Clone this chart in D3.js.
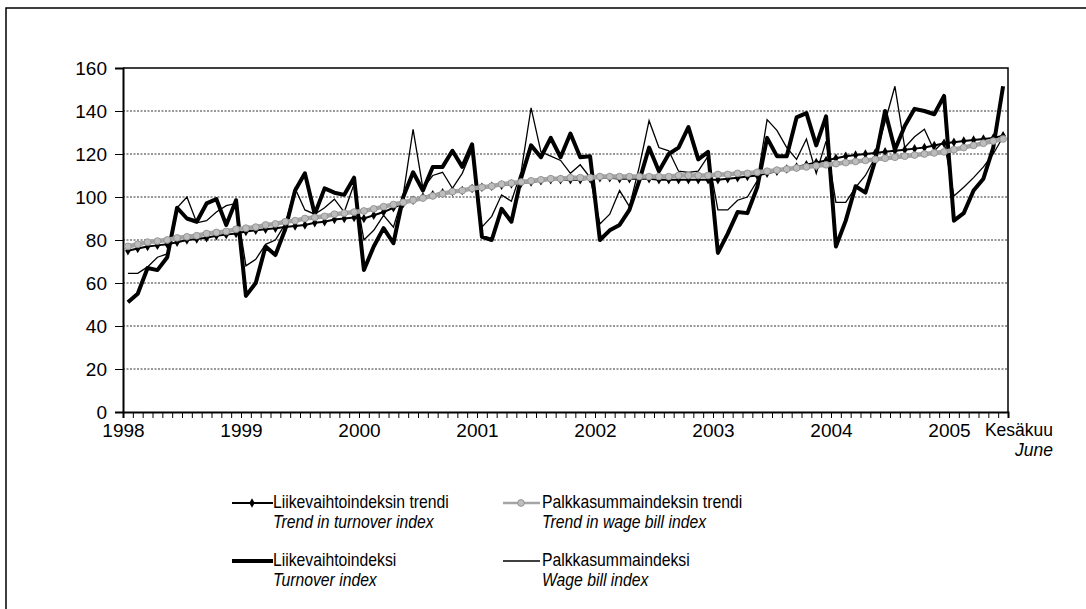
<!DOCTYPE html>
<html>
<head>
<meta charset="utf-8">
<script src="https://cdn.jsdelivr.net/npm/d3@7"></script>
<style>
  body { margin: 0; background: #fff; }
  svg text { font-family: "Liberation Sans", Arial, sans-serif; fill: #000; }
</style>
</head>
<body>
<div id="chart"></div>
<script>
// monthly data, Jan 1998 .. Jun 2005
var yearLabels = ["1998", "1999", "2000", "2001", "2002", "2003", "2004", "2005"];
var lastLabel = ["Kesäkuu", "June"];
var yTicks = [0, 20, 40, 60, 80, 100, 120, 140, 160];

var turnoverTrend = [
  75, 76, 77, 77.5, 78, 79, 80, 80.5, 81, 82, 82.5, 83,
  84, 84.5, 85, 85.5, 86, 86.5, 87, 88, 88.5, 89.5, 90, 90.5,
  90, 91.5, 93, 95, 97, 98.5, 100, 101, 102, 102.5, 103, 104,
  104.5, 105, 105.5, 106, 106.5, 107, 107.5, 108, 108, 108, 108, 108.5,
  109, 109, 108.5, 108.5, 108.5, 108.5, 108, 108, 108, 108, 108, 108,
  108, 108.5, 109, 109.5, 110, 111, 112, 113, 114, 115, 116, 117,
  118, 119, 119.5, 120, 120.5, 121, 121.5, 122, 122.5, 123, 124, 125,
  125.5, 126, 126.5, 127, 127.5, 128.5
];
var wageTrend = [
  77, 78, 79, 79.5, 80, 81, 81.5, 82, 83, 83.5, 84, 85,
  85.5, 86, 87, 87.5, 88.5, 89, 90, 90.5, 91, 92, 92.5, 93,
  93.5, 94.5, 95.5, 96.5, 97.5, 98.5, 99.5, 100.5, 101.5, 102.5, 103, 104,
  104.5, 105, 106, 106.5, 107, 107.5, 108, 108.5, 108.5, 109, 109, 109,
  109.5, 109.5, 109.5, 109.5, 109.5, 109.5, 109.5, 109.5, 110, 110, 110, 110,
  110.5, 110.5, 111, 111, 111.5, 112, 112.5, 113, 113.5, 114, 114.5, 115,
  115.5, 116, 116.5, 117, 117.5, 118, 118.5, 119, 119.5, 120, 120.5, 121,
  122, 123, 124, 125, 126, 127
];
var turnoverIndex = [
  51, 55, 67, 66, 72, 95, 90, 88.5, 97, 99, 87, 98.5,
  54, 60, 77, 73, 85, 103, 111, 92, 104, 102, 101, 109,
  66, 77, 85.5, 78.5, 100, 111.5, 103, 114, 114, 121.5, 114, 124.5,
  81.5, 80, 94.5, 88.5, 109, 124, 118.5, 127.5, 118.5, 129.5, 118.5, 119,
  80, 84.5, 87, 94, 107.5, 123, 112, 120, 123, 132.5, 117.5, 121,
  74, 83, 93, 92.5, 104.5, 127.5, 119, 119, 137, 139, 124, 137.5,
  77, 89, 105, 102, 117, 140, 122, 133, 141, 140, 138.5, 147,
  89, 92.5, 103, 108.5, 123, 151.5
];
var wageIndex = [
  64.5, 64.5, 67.5, 72, 73.5, 95, 100, 88, 89, 93, 96, 97,
  68, 71, 78, 80, 87.5, 104, 94, 92, 95, 99, 93, 106,
  80, 84.5, 91.5, 86, 101, 131.5, 104, 110, 111.5, 104, 111, 122,
  86, 91, 101, 98, 112, 141.5, 121, 119, 117, 111, 115, 109,
  87.5, 92, 103, 95.5, 114, 135.5, 123, 121.5, 112, 111.5, 112, 119,
  94, 94, 98.5, 100, 107.5, 136, 131, 123, 117.5, 127, 111, 126,
  97.5, 97.5, 104.5, 110, 118.5, 135, 151.5, 123, 128, 131.5, 121.5, 126,
  100.5, 104.5, 109, 114, 120, 128
];
var legendFi = ["Liikevaihtoindeksin trendi", "Palkkasummaindeksin trendi", "Liikevaihtoindeksi", "Palkkasummaindeksi"];
var legendEn = ["Trend in turnover index", "Trend in wage bill index", "Turnover index", "Wage bill index"];

var width = 1086, height = 609;
var nMonths = turnoverIndex.length;

var svg = d3.select("#chart").append("svg")
    .attr("width", width)
    .attr("height", height);

// outer frame (only left and top show in the picture)
svg.append("path")
    .attr("d", "M6,609 L6,8 L1086,8")
    .attr("fill", "none")
    .attr("stroke", "#000")
    .attr("stroke-width", 1.5);

var x = d3.scaleLinear().domain([0, nMonths]).range([123, 1008]);
var y = d3.scaleLinear().domain([0, 160]).range([412, 68]);

// gridlines
svg.append("g")
    .selectAll("line")
    .data(yTicks.filter(d => d > 0 && d < 160))
    .enter()
    .append("line")
    .attr("x1", x(0)).attr("x2", x(nMonths))
    .attr("y1", d => y(d)).attr("y2", d => y(d))
    .attr("stroke", "#333")
    .attr("stroke-width", 1)
    .attr("stroke-dasharray", "2,1.5");

// plot border top + right
svg.append("path")
    .attr("d", "M" + x(0) + "," + y(160) + " L" + x(nMonths) + "," + y(160) + " L" + x(nMonths) + "," + y(0))
    .attr("fill", "none")
    .attr("stroke", "#000")
    .attr("stroke-width", 1.5);

// y axis
var yAxis = svg.append("g")
    .attr("transform", "translate(" + x(0) + ",0)")
    .call(d3.axisLeft(y).tickValues(yTicks).tickSize(8).tickPadding(8));
yAxis.select(".domain").attr("stroke-width", 2);
yAxis.selectAll("text").attr("font-size", "19px").attr("font-family", "Liberation Sans, Arial, sans-serif");

// x axis: a tick for every month boundary
var xAxis = svg.append("g")
    .attr("transform", "translate(0," + y(0) + ")")
    .call(d3.axisBottom(x)
        .tickValues(d3.range(0, nMonths + 1))
        .tickSize(6)
        .tickPadding(6)
        .tickFormat(i => (i % 12 === 0 && i / 12 < yearLabels.length) ? yearLabels[i / 12] : ""));
xAxis.select(".domain").attr("stroke-width", 2);
xAxis.selectAll("text").attr("font-size", "19px").attr("font-family", "Liberation Sans, Arial, sans-serif");

svg.append("text")
    .attr("x", 1053).attr("y", 436)
    .attr("text-anchor", "end")
    .attr("font-size", "17.5px")
    .text(lastLabel[0]);
svg.append("text")
    .attr("x", 1053).attr("y", 456)
    .attr("text-anchor", "end")
    .attr("font-size", "17.5px")
    .attr("font-style", "italic")
    .text(lastLabel[1]);

var line = d3.line()
    .x((d, i) => x(i + 0.5))
    .y(d => y(d));

// turnover index (thick)
svg.append("path")
    .datum(turnoverIndex)
    .attr("d", line)
    .attr("fill", "none")
    .attr("stroke", "#000")
    .attr("stroke-width", 4)
    .attr("stroke-linejoin", "round");

// wage bill index (thin)
svg.append("path")
    .datum(wageIndex)
    .attr("d", line)
    .attr("fill", "none")
    .attr("stroke", "#000")
    .attr("stroke-width", 1.3);

// turnover trend with diamonds
svg.append("path")
    .datum(turnoverTrend)
    .attr("d", line)
    .attr("fill", "none")
    .attr("stroke", "#000")
    .attr("stroke-width", 2);
var diamond = d3.symbol().type(d3.symbolDiamond).size(26);
svg.append("g")
    .selectAll("path")
    .data(turnoverTrend)
    .enter()
    .append("path")
    .attr("d", diamond)
    .attr("transform", (d, i) => "translate(" + x(i + 0.5) + "," + y(d) + ")")
    .attr("fill", "#000");

// wage bill trend, gray with markers
svg.append("path")
    .datum(wageTrend)
    .attr("d", line)
    .attr("fill", "none")
    .attr("stroke", "#a5a5a5")
    .attr("stroke-width", 4.5);
svg.append("g")
    .selectAll("circle")
    .data(wageTrend)
    .enter()
    .append("circle")
    .attr("cx", (d, i) => x(i + 0.5))
    .attr("cy", d => y(d))
    .attr("r", 3.4)
    .attr("fill", "#bdbdbd")
    .attr("stroke", "#8a8a8a")
    .attr("stroke-width", 0.8);

// legend
var legendCols = [232, 503];
var legendRows = [508, 566];
var legendItems = legendFi.map((t, i) => ({ fi: t, en: legendEn[i], col: i % 2, row: Math.floor(i / 2), idx: i }));

var lg = svg.append("g");
legendItems.forEach(function (d) {
    var lx = legendCols[d.col];
    var ly = legendRows[d.row] - 5;
    var g = lg.append("g");
    if (d.idx === 0) {
        g.append("line").attr("x1", lx).attr("x2", lx + 41).attr("y1", ly).attr("y2", ly)
            .attr("stroke", "#000").attr("stroke-width", 2);
        g.append("path").attr("d", diamond).attr("transform", "translate(" + (lx + 20) + "," + ly + ")");
    } else if (d.idx === 1) {
        g.append("line").attr("x1", lx).attr("x2", lx + 37).attr("y1", ly).attr("y2", ly)
            .attr("stroke", "#a5a5a5").attr("stroke-width", 2.5);
        g.append("circle").attr("cx", lx + 18).attr("cy", ly).attr("r", 3.4)
            .attr("fill", "#bdbdbd").attr("stroke", "#8a8a8a").attr("stroke-width", 0.8);
    } else if (d.idx === 2) {
        g.append("line").attr("x1", lx).attr("x2", lx + 41).attr("y1", ly).attr("y2", ly)
            .attr("stroke", "#000").attr("stroke-width", 4);
    } else {
        g.append("line").attr("x1", lx).attr("x2", lx + 37).attr("y1", ly).attr("y2", ly)
            .attr("stroke", "#000").attr("stroke-width", 1.3);
    }
    var tx = lx + (d.col === 0 ? 41 : 39);
    g.append("text")
        .attr("transform", "translate(" + tx + "," + legendRows[d.row] + ") scale(0.9,1)")
        .attr("font-size", "17.5px")
        .text(d.fi);
    g.append("text")
        .attr("transform", "translate(" + tx + "," + (legendRows[d.row] + 20) + ") scale(0.9,1)")
        .attr("font-size", "17.5px")
        .attr("font-style", "italic")
        .text(d.en);
});
</script>
</body>
</html>
